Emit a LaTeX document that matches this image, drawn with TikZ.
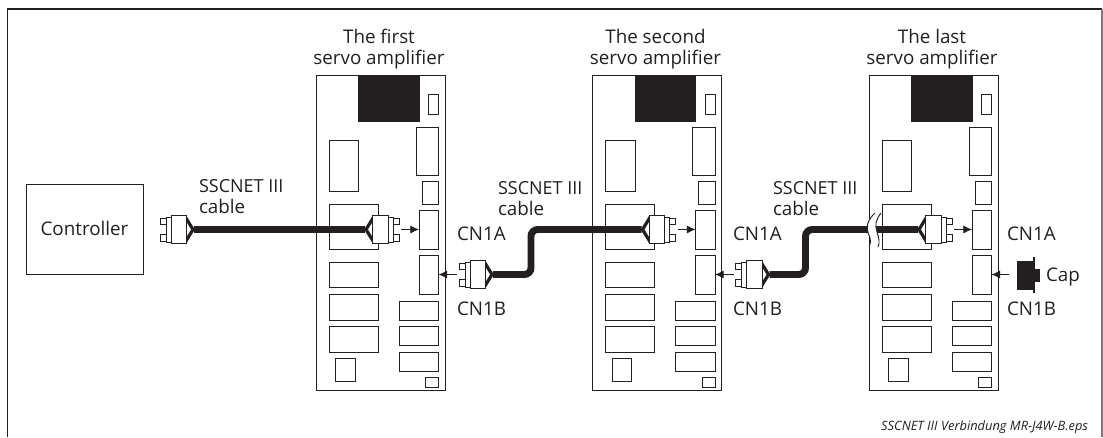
\documentclass[tikz,border=0pt]{standalone}
\usepackage{fontspec}
\setmainfont{Open Sans}
\usetikzlibrary{fit,arrows.meta}
\definecolor{ink}{HTML}{231F20}
\tikzset{
  compbox/.style={draw=ink,line width=0.75pt,inner sep=0pt,outer sep=0pt,fill=white},
  solidbox/.style={draw=ink,fill=ink,line width=0.5pt,inner sep=0pt,outer sep=0pt},
  cable/.style={draw=ink,line width=5.2pt,rounded corners=5pt},
  fork/.style={draw=ink,line width=2.4pt,miter limit=10},
  connpart/.style={draw=ink,fill=white,line width=0.7pt},
  feed/.style={draw=ink,line width=0.6pt,-{Latex[length=6.5pt,width=6pt]}},
  lbl/.style={font=\fontsize{14.1pt}{16pt}\selectfont,text=ink,inner sep=0pt,outer sep=0pt,anchor=base west},
  narrowlbl/.style={lbl,font=\fontsize{13.5pt}{16pt}\selectfont},
  head/.style={font=\fontsize{14.1pt}{16pt}\selectfont,text=ink,inner sep=0pt,outer sep=0pt,anchor=base},
  note/.style={font=\fontsize{9.65pt}{12pt}\selectfont\itshape,text=ink,inner sep=0pt,outer sep=0pt,anchor=base east},
  frameline/.style={draw=ink,line width=1.4pt},
}
\newcommand{\pbox}[5]{\node[compbox,fit={(#2,#3)(#4,#5)}] (#1) {};}
% name, tip x, tip y, direction (+1: pins to the right, -1: pins to the left)
\newcommand{\plug}[4]{%
  \begin{scope}[shift={(#2,#3)},xscale=#4]
    \coordinate (#1-tip) at (0,0);
    \coordinate (#1-out) at (36,0);
    \draw[connpart] (27.5,-11.5) rectangle (34,-5);
    \draw[connpart] (27.5,5) rectangle (34,11.5);
    \draw[connpart] (23,-12.5) rectangle (28,12.5);
    \draw[fork] (9,-13) -- (1,0) -- (9,13);
    \draw[connpart] (7.5,-13.6) rectangle (23,13.6);
  \end{scope}}
\begin{document}
\begin{tikzpicture}[x=0.75pt,y=-0.75pt]
\useasboundingbox (0,0) rectangle (1103,437);
\draw[frameline] (7.5,437) -- (7.5,9) -- (1102,9);
\draw[draw=ink!60,line width=0.8pt] (1102,9) -- (1102,437);
\node[compbox,fit={(26.7,184.7)(143,274.3)}] (ctrl) {};
\node[lbl,anchor=base] (ctrltext) at (84.5,235) {Controller};
\foreach \n/\o/\t/\u in {1/0/The first/servo amplifier,2/276.5/The second/servo amplifier,3/553/The last/servo amplifier}{
  \pbox{b\n}{\o+316}{75}{\o+445}{390.5}
  \node[solidbox,fit={(\o+358.5,75)(\o+419,121)}] (b\n-black) {};
  \pbox{b\n-r1}{\o+428.5}{94}{\o+438.5}{114}
  \pbox{b\n-r2}{\o+416}{127}{\o+438.5}{175}
  \pbox{b\n-r3}{\o+422}{181}{\o+438.5}{204}
  \pbox{b\n-cna}{\o+419}{210}{\o+438.5}{249}
  \pbox{b\n-cnb}{\o+419}{255}{\o+438.5}{294}
  \pbox{b\n-r4}{\o+399}{301}{\o+438.5}{320}
  \pbox{b\n-r5}{\o+399}{326}{\o+438.5}{345}
  \pbox{b\n-r6}{\o+399}{352}{\o+438.5}{371}
  \pbox{b\n-r7}{\o+425.5}{377}{\o+438.5}{387}
  \pbox{b\n-l1}{\o+329}{140}{\o+358.5}{191}
  \pbox{b\n-l2}{\o+329}{204}{\o+378}{249}
  \pbox{b\n-l3}{\o+329}{262}{\o+378}{287}
  \pbox{b\n-l4}{\o+329}{294}{\o+378}{320}
  \pbox{b\n-l5}{\o+329}{326}{\o+378}{352}
  \pbox{b\n-l6}{\o+335.5}{358}{\o+355}{381}
  \node[head] (b\n-t1) at (\o+379,43) {\t};
  \node[head] (b\n-t2) at (\o+379,64) {\u};
}
% plugs' anchor points
\coordinate (p0) at (194,229.5);
\coordinate (pa1) at (365,229.5);
\coordinate (pa2) at (641.5,229.5);
\coordinate (pa3) at (918,229.5);
\coordinate (pb1) at (493,274.5);
\coordinate (pb2) at (769.5,274.5);
\coordinate (bend1) at (531,252);
\coordinate (bend2) at (805.5,252);
% cables
\draw[cable] (p0) -- (pa1);
\draw[cable] (pb1) -| (bend1) |- (pa2);
\draw[cable] (pb2) -| (bend2) |- (pa3);
% cable break on the last amplifier
\fill[white] (875,213) .. controls (863,224) and (868,232) .. (870,238) .. controls (871,242) and (870,245) .. (869,247)
  -- (878,247) .. controls (880,243) and (879,238) .. (877,232) .. controls (875,225) and (875,221) .. (881,213) -- cycle;
\draw[draw=ink,line width=0.7pt] (875,213) .. controls (863,224) and (868,232) .. (870,238) .. controls (871,242) and (870,245) .. (869,247);
\draw[draw=ink,line width=0.7pt] (881,213) .. controls (875,221) and (875,225) .. (877,232) .. controls (879,238) and (880,243) .. (878,247);
% plugs
\plug{c0}{194}{229.5}{-1}
\plug{c1}{365}{229.5}{1}
\plug{c2}{641.5}{229.5}{1}
\plug{c3}{918}{229.5}{1}
\plug{d1}{493}{274.5}{-1}
\plug{d2}{769.5}{274.5}{-1}
% feeds
\draw[feed] (c1-out) -- (b1-cna.west);
\draw[feed] (c2-out) -- (b2-cna.west);
\draw[feed] (c3-out) -- (b3-cna.west);
\draw[feed] (d1-out) -- (b1-cnb.east);
\draw[feed] (d2-out) -- (b2-cnb.east);
% cap
\node[solidbox,fit={(1017,261)(1033,289)}] (capbody) {};
\node[solidbox,fit={(1033,269)(1039,281)}] (capnub) {};
\node[solidbox,fit={(1033,257)(1034,292)}] (capflange) {};
\coordinate (capout) at (1009,274.5);
\draw[feed] (capout) -- (b3-cnb.east);
\node[lbl] (captext) at (1046,281) {Cap};
% labels
\node[narrowlbl] (s1a) at (199,192) {SSCNET III};
\node[lbl] (s1b) at (199,213) {cable};
\node[narrowlbl] (s2a) at (498,194) {SSCNET III};
\node[lbl] (s2b) at (498,215) {cable};
\node[narrowlbl] (s3a) at (773,194) {SSCNET III};
\node[lbl] (s3b) at (773,215) {cable};
\node[lbl] (a1) at (457,240) {CN1A};
\node[lbl] (b1t) at (457,315) {CN1B};
\node[lbl] (a2) at (733,240) {CN1A};
\node[lbl] (b2t) at (733,315) {CN1B};
\node[lbl] (a3) at (1007,240) {CN1A};
\node[lbl] (b3t) at (1007,315) {CN1B};
\node[note] (fn) at (1088,430) {SSCNET III Verbindung MR-J4W-B.eps};
\end{tikzpicture}
\end{document}
